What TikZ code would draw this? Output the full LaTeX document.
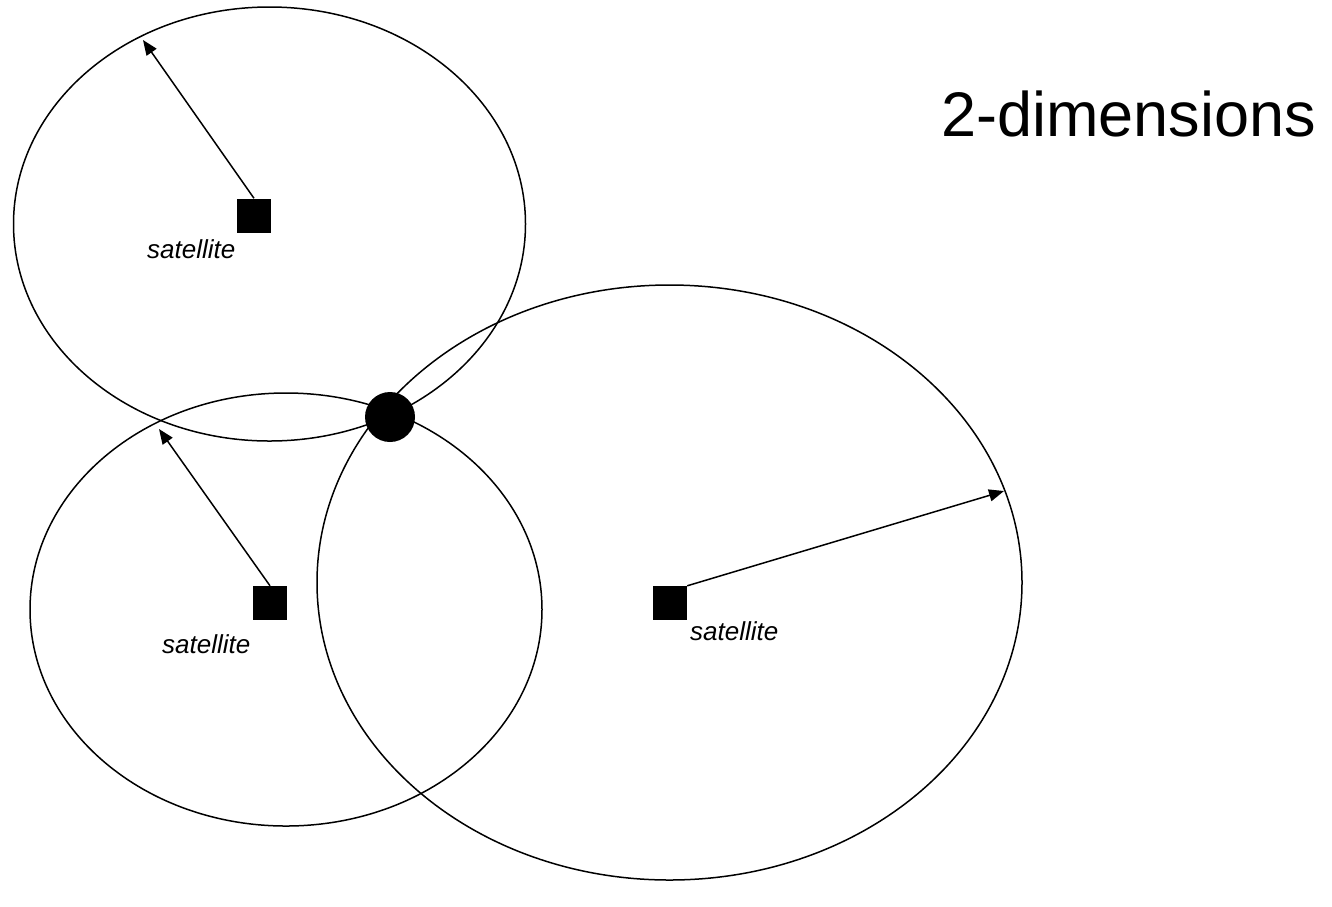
\documentclass[tikz,border=0pt]{standalone}
\usepackage{fontspec}
\setmainfont{Liberation Sans}
\usetikzlibrary{arrows.meta}

\begin{document}
\begin{tikzpicture}[x=1pt,y=-1pt,
    sat/.style={fill=black, minimum size=34pt, inner sep=0pt},
    lbl/.style={anchor=base west, inner sep=0pt, font=\fontsize{26}{30}\selectfont\itshape},
    ring/.style={line width=1.5pt},
    ray/.style={line width=1.5pt, -{Triangle[length=15pt,width=12pt]}}]
    \useasboundingbox (0,0) rectangle (1332,906);

    % coverage rings
    \draw[ring] (269.5,224) ellipse [x radius=256, y radius=217];
    \draw[ring] (286,609.5) ellipse [x radius=256, y radius=216.5];
    \draw[ring] (669.5,582.5) ellipse [x radius=352.5, y radius=297.5];

    \node[sat] (s1) at (254,215.5) {};
    \node[sat] (s2) at (270,603) {};
    \node[sat] (s3) at (670,603) {};

    \node[lbl] (l1) at (147,258) {satellite};
    \node[lbl] (l2) at (162,653) {satellite};
    \node[lbl] (l3) at (690,640) {satellite};

    \node[fill=black, circle, minimum size=50pt, inner sep=0pt] (fix) at (390,417) {};

    \node[anchor=base west, inner sep=0pt, font=\fontsize{63}{76}\selectfont] (title) at (941,136) {2-dimensions};

    \coordinate (t1) at (143,40);
    \coordinate (t2) at (159,429);
    \coordinate (t3) at (1004,491);

    \draw[ray] (s1.north) -- (t1);
    \draw[ray] (s2.north) -- (t2);
    \draw[ray] (s3.north east) -- (t3);
\end{tikzpicture}
\end{document}
